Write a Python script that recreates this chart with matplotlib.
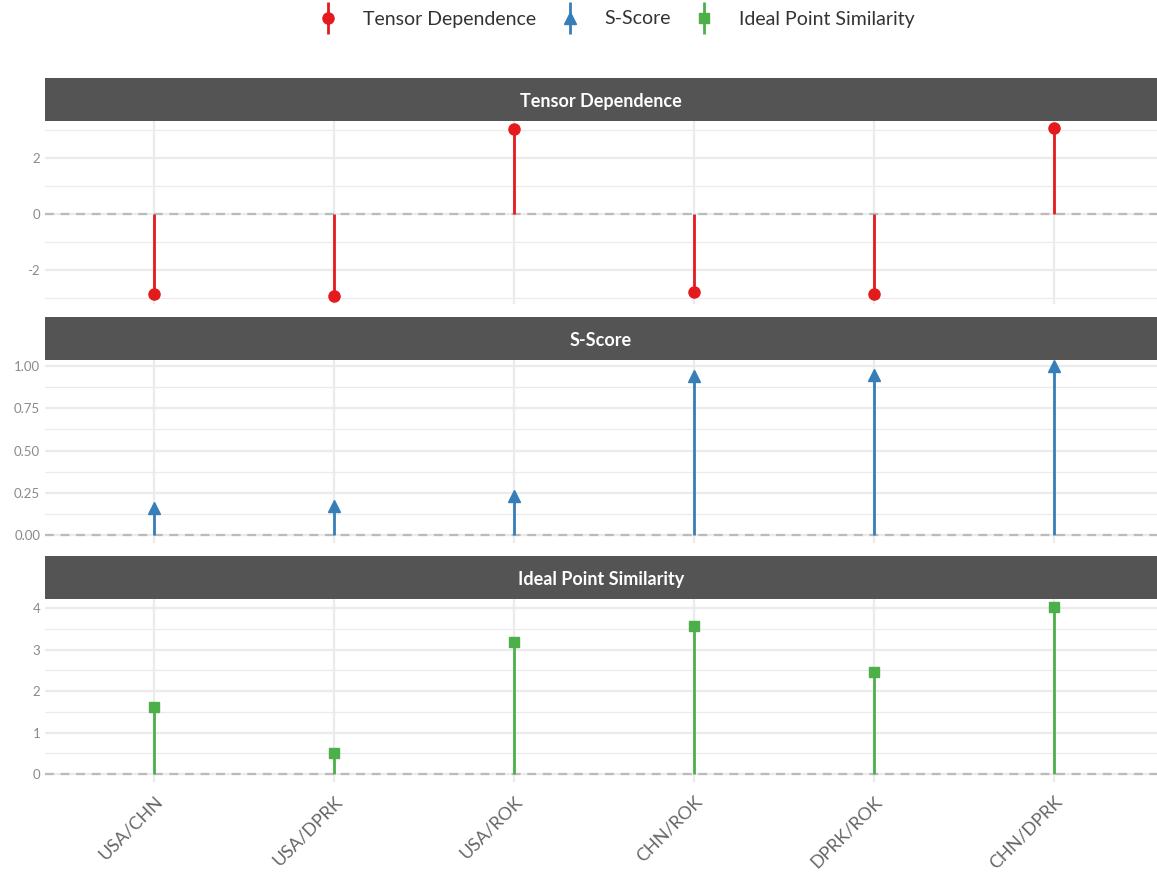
import matplotlib.pyplot as plt
from matplotlib.lines import Line2D
from matplotlib.legend_handler import HandlerTuple
import numpy as np

plt.rcParams['font.family'] = ['Lato', 'DejaVu Sans']

dyads = ['USA/CHN', 'USA/DPRK', 'USA/ROK', 'CHN/ROK', 'DPRK/ROK', 'CHN/DPRK']
tensor_dep = [-2.86, -2.93, 3.04, -2.79, -2.86, 3.07]
s_score = [0.16, 0.17, 0.23, 0.94, 0.95, 1.00]
ideal_sim = [1.61, 0.51, 3.18, 3.57, 2.46, 4.02]

panels = [
    ('Tensor Dependence', tensor_dep, '#E41A1C', 'o', 8, [-2, 0, 2], ['-2', '0', '2'], (-3.21, 3.32), 1.0),
    ('S-Score', s_score, '#377EB8', '^', 9, [0, 0.25, 0.5, 0.75, 1.0], ['0.00', '0.25', '0.50', '0.75', '1.00'], (-0.047, 1.036), 0.125),
    ('Ideal Point Similarity', ideal_sim, '#4DAF4A', 's', 7.5, [0, 1, 2, 3, 4], ['0', '1', '2', '3', '4'], (-0.19, 4.22), 0.5),
]

W, H = 1157, 873
fig = plt.figure(figsize=(W / 100, H / 100), dpi=100)

# pixel layout (top of strip, top of axes, bottom of axes)
rows = [(78, 121, 304), (317, 360, 543), (556, 599, 782)]
x0, x1 = 45, 1157
x = np.arange(1, len(dyads) + 1)

for (title, vals, col, mk, ms, ticks, labs, lim, minor), (st, at, ab) in zip(panels, rows):
    ax = fig.add_axes([x0 / W, 1 - ab / H, (x1 - x0) / W, (ab - at) / H])
    sx = fig.add_axes([x0 / W, 1 - at / H, (x1 - x0) / W, (at - st) / H])
    sx.set_facecolor('#545454')
    sx.set_xticks([]); sx.set_yticks([])
    for s in sx.spines.values():
        s.set_visible(False)
    sx.text(0.5, 0.45, title, color='white', fontsize=13, fontweight='bold',
            ha='center', va='center', transform=sx.transAxes)

    ax.set_xlim(0.394, 6.572)
    ax.set_ylim(*lim)
    ax.set_yticks(ticks)
    ax.set_yticklabels(labs)
    mt = np.arange(ticks[0] - minor, ticks[-1] + minor * 1.01, minor)
    ax.set_yticks([m for m in mt if lim[0] <= m <= lim[1]], minor=True)
    ax.set_xticks(x)
    ax.grid(True, which='major', color='#EBEBEB', lw=1.6)
    ax.grid(True, which='minor', axis='y', color='#EBEBEB', lw=0.9)
    ax.set_axisbelow(True)
    for s in ax.spines.values():
        s.set_visible(False)
    ax.tick_params(length=0, colors='#8a8a8a', labelsize=9.5, which='both')
    ax.axhline(0, color='#BBBBBB', lw=1.6, ls=(0, (4, 3)), zorder=1)
    ax.vlines(x, 0, vals, color=col, lw=2, zorder=2)
    ax.plot(x, vals, ls='none', marker=mk, color=col, ms=ms, zorder=3)
    if title == 'Ideal Point Similarity':
        ax.set_xticklabels(dyads, rotation=45, ha='right', rotation_mode='anchor',
                           fontsize=13, color='#666666')
        ax.tick_params(axis='x', pad=8)
    else:
        ax.set_xticklabels([])

handles = []
for title, vals, col, mk, ms, *_ in panels:
    handles.append((Line2D([], [], color=col, marker='|', ms=23, mew=2, ls='none'),
                    Line2D([], [], color=col, marker=mk, ms=ms, ls='none')))
leg = fig.legend(handles, [p[0] for p in panels], loc='center', bbox_to_anchor=(0.533, 1 - 19 / H),
                 ncol=3, frameon=False, fontsize=14, handler_map={tuple: HandlerTuple(ndivide=1)},
                 handlelength=1.0, columnspacing=1.2, handletextpad=1.3, labelcolor='#333333')

fig.savefig('out.png', dpi=100)
